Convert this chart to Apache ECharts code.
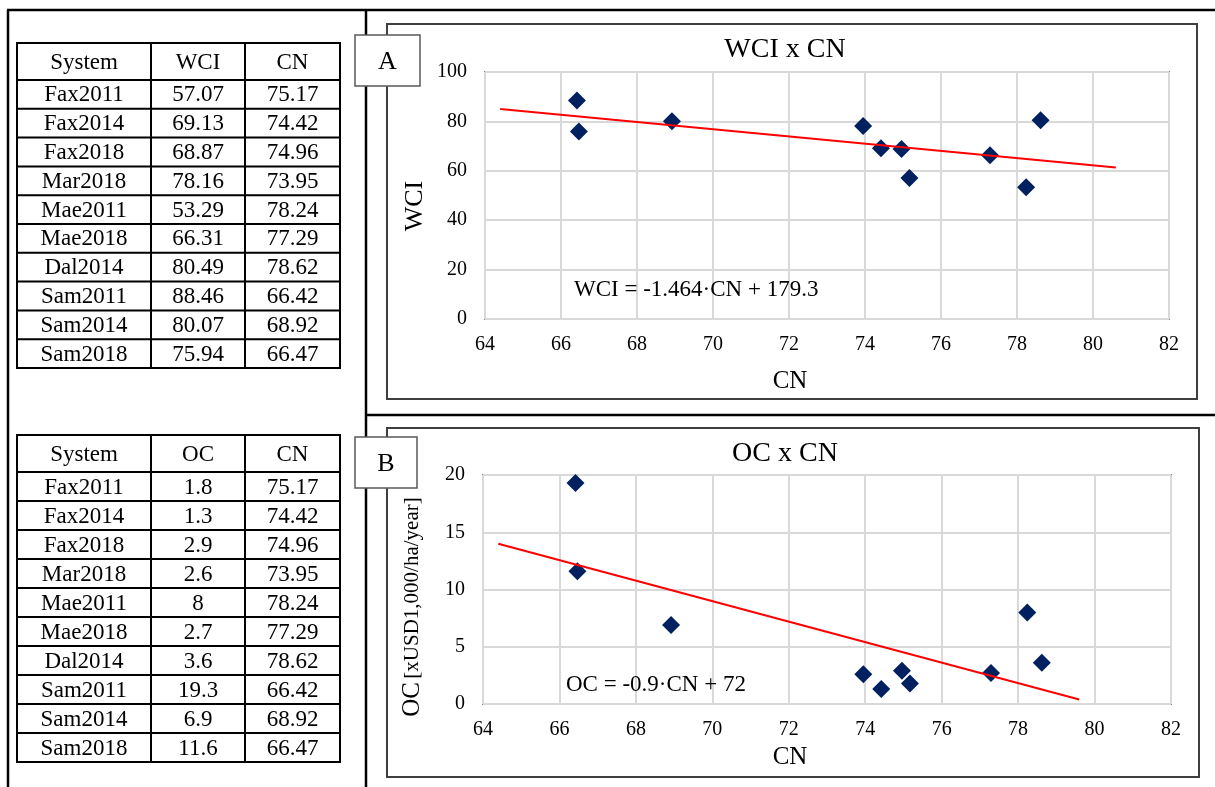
<!DOCTYPE html>
<html>
<head>
<meta charset="utf-8">
<script src="https://cdn.jsdelivr.net/npm/echarts@6/dist/echarts.min.js"></script>
<style>
  html, body { margin: 0; padding: 0; background: #fff; }
  #figure { width: 1215px; height: 787px; }
</style>
</head>
<body>
<div id="figure"></div>
<script>
var systems = ['Fax2011', 'Fax2014', 'Fax2018', 'Mar2018', 'Mae2011', 'Mae2018', 'Dal2014', 'Sam2011', 'Sam2014', 'Sam2018'];
var wciValues = [57.07, 69.13, 68.87, 78.16, 53.29, 66.31, 80.49, 88.46, 80.07, 75.94];
var ocValues = [1.8, 1.3, 2.9, 2.6, 8, 2.7, 3.6, 19.3, 6.9, 11.6];
var cnValues = [75.17, 74.42, 74.96, 73.95, 78.24, 77.29, 78.62, 66.42, 68.92, 66.47];

// Trend line end points
var wciTrend = [[64.4, 85.0], [80.6, 61.3]];
var ocTrend = [[64.4, 14.0], [79.6, 0.4]];

var wciEquation = 'WCI = -1.464\u00b7CN + 179.3';
var ocEquation = 'OC = -0.9\u00b7CN + 72';

var FONT = '"Liberation Serif", "Times New Roman", serif';

function ln(x1, y1, x2, y2, w, color, z) {
    return {
        type: 'line', silent: true, z: z || 10,
        shape: { x1: x1, y1: y1, x2: x2, y2: y2 },
        style: { stroke: color, lineWidth: w }
    };
}

function txt(x, y, str, size, align, z) {
    return {
        type: 'text', silent: true, x: x, y: y, z: z || 20,
        style: {
            text: str, fill: '#000',
            font: size + 'px ' + FONT,
            align: align || 'center', textAlign: align || 'center',
            verticalAlign: 'middle', textVerticalAlign: 'middle'
        }
    };
}

// Build one of the two tables on the left
function tableGraphic(top, headBottom, bottom, header, col2) {
    var els = [];
    var colX = [17, 151, 245, 340];
    var rowH = (bottom - headBottom) / systems.length;
    var rowY = [top, headBottom];
    for (var i = 1; i <= systems.length; i++) rowY.push(headBottom + i * rowH);
    rowY.forEach(function (y) { els.push(ln(16, y, 341, y, 2, '#000')); });
    colX.forEach(function (x) { els.push(ln(x, top, x, bottom, 2, '#000')); });
    var cx = [84, 198, 292.5];
    header.forEach(function (h, j) { els.push(txt(cx[j], (top + headBottom) / 2 + 1, h, 23)); });
    systems.forEach(function (s, i) {
        var y = headBottom + (i + 0.5) * rowH + 1;
        els.push(txt(cx[0], y, s, 23));
        els.push(txt(cx[1], y, String(col2[i]), 23));
        els.push(txt(cx[2], y, String(cnValues[i]), 23));
    });
    return els;
}

function panelBox(x1, y1, x2, y2) {
    return {
        type: 'rect', silent: true, z: 5,
        shape: { x: x1, y: y1, width: x2 - x1, height: y2 - y1 },
        style: { fill: 'none', stroke: '#3f3f3f', lineWidth: 2 }
    };
}

function letterBox(x1, y1, x2, y2, letter) {
    return [{
        type: 'rect', silent: true, z: 30,
        shape: { x: x1, y: y1, width: x2 - x1, height: y2 - y1 },
        style: { fill: '#fff', stroke: '#595959', lineWidth: 1.5 }
    }, txt((x1 + x2) / 2, (y1 + y2) / 2 + 2, letter, 26, 'center', 31)];
}

var graphics = [];
// outer frame
graphics.push(ln(7, 10, 1215, 10, 2.5, '#000'));
graphics.push(ln(8, 10, 8, 787, 2.5, '#000'));
graphics.push(ln(366, 10, 366, 787, 2.5, '#000'));
graphics.push(ln(366, 415, 1215, 415, 2.5, '#000'));
// tables
graphics = graphics.concat(tableGraphic(43, 80, 368, ['System', 'WCI', 'CN'], wciValues));
graphics = graphics.concat(tableGraphic(435, 472, 762, ['System', 'OC', 'CN'], ocValues));
// chart panels
graphics.push(panelBox(387, 24, 1197, 399));
graphics.push(panelBox(387, 428, 1199, 777));
graphics = graphics.concat(letterBox(355, 35, 420, 86, 'A'));
graphics = graphics.concat(letterBox(355, 437, 417, 488, 'B'));
// chart titles, axis names, equations
graphics.push(txt(785, 50, 'WCI x CN', 28));
graphics.push(txt(785, 454, 'OC x CN', 28));
graphics.push(txt(790, 381, 'CN', 25));
graphics.push(txt(790, 757, 'CN', 25));
var wciName = txt(415, 206, 'WCI', 26);
wciName.rotation = Math.PI / 2;
graphics.push(wciName);
graphics.push({
    type: 'text', silent: true, x: 412, y: 607, z: 20, rotation: Math.PI / 2,
    style: {
        text: '{a|OC} {b|[xUSD1,000/ha/year]}',
        align: 'center', textAlign: 'center',
        verticalAlign: 'middle', textVerticalAlign: 'middle',
        rich: {
            a: { fontSize: 25, fontFamily: FONT, fill: '#000', color: '#000' },
            b: { fontSize: 21, fontFamily: FONT, fill: '#000', color: '#000' }
        }
    }
});
graphics.push(txt(574, 290, wciEquation, 23, 'left'));
graphics.push(txt(566, 685, ocEquation, 23, 'left'));

var axisLabel = { color: '#000', fontSize: 20, fontFamily: FONT };
var splitLine = { show: true, lineStyle: { color: '#d9d9d9', width: 2 } };

function xAxisFor(gridIndex) {
    return {
        type: 'value', gridIndex: gridIndex, min: 64, max: 82, interval: 2,
        axisLine: { show: false }, axisTick: { show: false },
        axisLabel: Object.assign({ margin: 16 }, axisLabel),
        splitLine: splitLine
    };
}

function yAxisFor(gridIndex, max, interval) {
    return {
        type: 'value', gridIndex: gridIndex, min: 0, max: max, interval: interval,
        axisLine: { show: false }, axisTick: { show: false },
        axisLabel: Object.assign({ margin: 18 }, axisLabel),
        splitLine: splitLine
    };
}

var chart = echarts.init(document.getElementById('figure'));
chart.setOption({
    animation: false,
    backgroundColor: '#fff',
    graphic: { elements: graphics },
    grid: [
        { left: 485, top: 72, width: 684, height: 247, show: true, borderColor: '#868686', borderWidth: 2 },
        { left: 483, top: 475, width: 688, height: 229, show: true, borderColor: '#868686', borderWidth: 2 }
    ],
    xAxis: [xAxisFor(0), xAxisFor(1)],
    yAxis: [yAxisFor(0, 100, 20), yAxisFor(1, 20, 5)],
    series: [{
        type: 'scatter', xAxisIndex: 0, yAxisIndex: 0, z: 12,
        symbol: 'diamond', symbolSize: 18,
        itemStyle: { color: '#002060', opacity: 1 },
        data: cnValues.map(function (cn, i) { return [cn, wciValues[i]]; })
    }, {
        type: 'line', xAxisIndex: 0, yAxisIndex: 0, z: 13,
        showSymbol: false, symbol: 'none',
        lineStyle: { color: '#ff0000', width: 2 },
        data: wciTrend
    }, {
        type: 'scatter', xAxisIndex: 1, yAxisIndex: 1, z: 12,
        symbol: 'diamond', symbolSize: 18,
        itemStyle: { color: '#002060', opacity: 1 },
        data: cnValues.map(function (cn, i) { return [cn, ocValues[i]]; })
    }, {
        type: 'line', xAxisIndex: 1, yAxisIndex: 1, z: 13,
        showSymbol: false, symbol: 'none',
        lineStyle: { color: '#ff0000', width: 2 },
        data: ocTrend
    }]
});
</script>
</body>
</html>
